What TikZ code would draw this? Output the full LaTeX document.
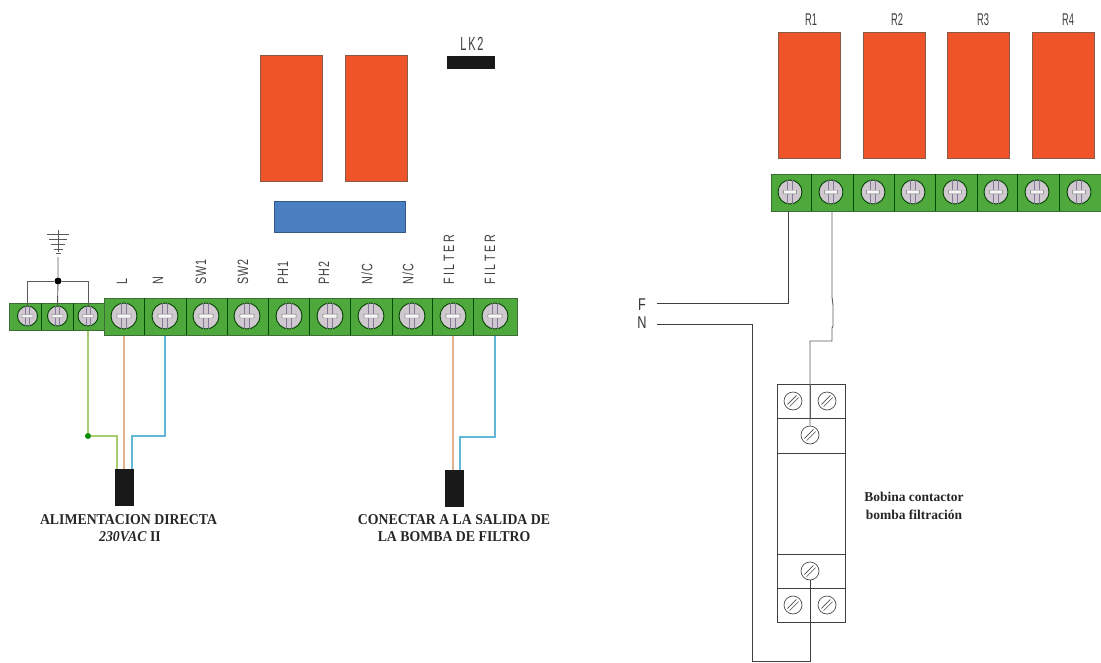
\documentclass[tikz,border=0pt]{standalone}
\usepackage{fontspec}
\setmainfont{Liberation Serif}
\setsansfont{Liberation Sans}
\definecolor{termgreen}{HTML}{4FA83C}
\definecolor{termedge}{HTML}{3C6E35}
\definecolor{relayred}{HTML}{EE5427}
\definecolor{relayedge}{HTML}{8A5A48}
\definecolor{bluebox}{HTML}{4A80C2}
\definecolor{wireg}{HTML}{A9CE6F}
\definecolor{wireo}{HTML}{E3B28E}
\definecolor{wireb}{HTML}{62B6D8}
\definecolor{wiregray}{HTML}{5A5A5A}
\definecolor{screwgray}{HTML}{CFC9CF}
\definecolor{screwline}{HTML}{85789A}
\newcommand{\screwat}[3]{% name, position, radius
  \node[screw,minimum size=#3*2pt] (#1) at (#2) {};
  \draw[screwline,line width=.7pt] ([xshift=-#3*.2pt]#1.north) -- ([xshift=-#3*.2pt]#1.south)
    ([xshift=#3*.2pt]#1.north) -- ([xshift=#3*.2pt]#1.south);
  \node[slot,minimum width=#3*1.1pt,minimum height=#3*.3pt] at (#1) {};
}
\newcommand{\dryscrew}[3]{% name, position, radius
  \node[bscrew,minimum size=#3*2pt] (#1) at (#2) {};
  \draw[line width=.6pt,black!70] ([shift={(-#3*.62pt,-#3*.38pt)}]#1.center) -- ([shift={(#3*.38pt,#3*.62pt)}]#1.center)
    ([shift={(-#3*.38pt,-#3*.62pt)}]#1.center) -- ([shift={(#3*.62pt,#3*.38pt)}]#1.center);
}
\newcommand{\lsp}{\kern1.5pt}
\newcommand{\lwd}{\kern3.5pt}
\tikzset{
  x=1pt,y=-1pt,
  block/.style={draw=termedge,fill=termgreen,line width=.6pt,minimum height=#1,inner sep=0pt,anchor=north west},
  sep/.style={draw=black!70!green,line width=.6pt},
  screw/.style={circle,draw=black!75!green,fill=screwgray,line width=.9pt,inner sep=0pt},
  slot/.style={rectangle,rounded corners=.6pt,draw=black!55,fill=white!92!gray,line width=.4pt,inner sep=0pt},
  bscrew/.style={circle,draw=black!70,fill=white,line width=.7pt,inner sep=0pt},
  relay/.style={draw=relayedge,fill=relayred,line width=.7pt,inner sep=0pt,minimum width=62pt,minimum height=126pt,anchor=north west},
  gwire/.style={draw=wiregray,line width=.9pt},
  kwire/.style={draw=black!75,line width=.9pt},
  glabel/.style={font=\sffamily\fontsize{15}{15}\selectfont,rotate=90,xscale=.72,anchor=west,inner sep=0pt,text=black!75},
  plug/.style={fill=black!90,inner sep=0pt,minimum width=19pt,minimum height=37pt,anchor=north west},
  capt/.style={font=\fontsize{15}{15}\selectfont\bfseries,text=black!85,inner sep=0pt,xscale=.92},
  rlabel/.style={font=\sffamily\fontsize{17}{17}\selectfont,inner sep=0pt,text=black!75,xscale=.55},
  coil/.style={font=\fontsize{13.5}{13.5}\selectfont\bfseries,text=black!85,inner sep=0pt},
  fnlabel/.style={font=\sffamily\fontsize{17}{17}\selectfont,inner sep=0pt,xscale=.75,text=black!80},
  box/.style={draw=black!75,line width=.8pt},
}
\begin{document}
\begin{tikzpicture}
\useasboundingbox (0,0) rectangle (1101,662);
% relays left
\node[relay] (ra) at (260,55) {};
\node[relay] (rb) at (345,55) {};
\node[draw=bluebox!70!black,fill=bluebox,line width=.7pt,inner sep=0pt,minimum width=131pt,minimum height=31pt,anchor=north west] (bluebar) at (274,201) {};
\node[fill=black!90,inner sep=0pt,minimum width=48pt,minimum height=13pt,anchor=north west] (lk) at (447,56) {};
\node[font=\sffamily\fontsize{19}{19}\selectfont,inner sep=0pt,text=black!75,xscale=.58] (lkt) at (472,44) {L\kern3pt K\kern3pt 2};
% left terminal blocks
\node[block=27pt,minimum width=96pt] (tbs) at (9,303) {};
\node[block=37pt,minimum width=413pt] (tbb) at (104,298) {};
\foreach \x in {41.5,73} \draw[sep] (\x,303) -- (\x,330);
\foreach \x in {144,186,227,268,309,350,392,432,473} \draw[sep] (\x,298) -- (\x,335);
\screwat{e1}{27.5,316}{10}
\screwat{e2}{57.5,316}{10}
\screwat{e3}{88,316}{10}
\screwat{sL}{124,316}{13}
\screwat{sN}{165,316}{13}
\screwat{s3}{206,316}{13}
\screwat{s4}{247,316}{13}
\screwat{s5}{289,316}{13}
\screwat{s6}{330,316}{13}
\screwat{s7}{371,316}{13}
\screwat{s8}{412,316}{13}
\screwat{sF}{453,316}{13}
\screwat{sG}{495,316}{13}
% terminal labels
\node[glabel] (l1) at (122,285) {L};
\node[glabel] (l2) at (158,285) {N};
\node[glabel] (l3) at (201,285) {S\lsp W\lsp 1};
\node[glabel] (l4) at (243,285) {S\lsp W\lsp 2};
\node[glabel] (l5) at (283,285) {P\lsp H\lsp 1};
\node[glabel] (l6) at (324,285) {P\lsp H\lsp 2};
\node[glabel] (l7) at (367,285) {N\lsp /\lsp C};
\node[glabel] (l8) at (408,285) {N\lsp /\lsp C};
\node[glabel] (l9) at (449,285) {F\lwd I\lwd L\lwd T\lwd E\lwd R};
\node[glabel] (l10) at (490,285) {F\lwd I\lwd L\lwd T\lwd E\lwd R};
% earth
\node[circle,fill=black,inner sep=0pt,minimum size=7pt] (jn) at (58,281) {};
\coordinate (earth) at (58,257);
\draw[gwire] (e1.north) |- (jn) -| (e3.north);
\draw[gwire] (e2.north) -- (jn) -- (earth);
\draw[gwire,line width=.7pt] (58,230) -- (58,252);
\foreach \y/\w in {234/11,239/9,244/7,249/4.5,253/2.5} \draw[gwire,line width=.7pt] (58-\w,\y) -- (58+\w,\y);
% left wiring
\node[plug] (p1) at (115,469) {};
\node[plug] (p2) at (445,470) {};
\node[circle,fill=green!55!black,inner sep=0pt,minimum size=6pt] (gd) at (88,436) {};
\draw[wireg,line width=1.2pt] (e3 |- tbs.south) -- (gd) -- (117,436) -- (117,469);
\draw[wireo,line width=1.3pt] (sL |- tbb.south) -- (sL |- p1.north);
\draw[wireb,line width=1.2pt] (sN |- tbb.south) -- (165,436) -- (132,436) -- (132,469);
\draw[wireo,line width=1.3pt] (sF |- tbb.south) -- (sF |- p2.north);
\draw[wireb,line width=1.2pt] (sG |- tbb.south) -- (495,437) -- (460,437) -- (460,470);
\node[capt] (c1) at (128.5,519.5) {ALIMENTACION DIRECTA};
\node[capt] (c2) at (130,537) {\textit{230VAC} II};
\node[capt] (c3) at (454,520) {CONECTAR A LA SALIDA DE};
\node[capt] (c4) at (454,537) {LA BOMBA DE FILTRO};
% right relays
\node[relay] (r1) at (778,32) {};
\node[relay] (r2) at (863,32) {};
\node[relay] (r3) at (947,32) {};
\node[relay] (r4) at (1032,32) {};
\node[rlabel] (t1) at (811,20) {R1};
\node[rlabel] (t2) at (897,20) {R2};
\node[rlabel] (t3) at (983,20) {R3};
\node[rlabel] (t4) at (1068,20) {R4};
\node[block=37pt,minimum width=330pt] (tbr) at (771,174) {};
\foreach \x in {811,853,894,935,977,1017,1059} \draw[sep] (\x,174) -- (\x,211);
\screwat{q1}{790,192}{12}
\screwat{q2}{831,192}{12}
\screwat{q3}{873,192}{12}
\screwat{q4}{913,192}{12}
\screwat{q5}{955,192}{12}
\screwat{q6}{996,192}{12}
\screwat{q7}{1037,192}{12}
\screwat{q8}{1079,192}{12}
% contactor
\draw[box] (777,384) rectangle (845,622);
\foreach \y in {418,453,554,588} \draw[box] (777,\y) -- (845,\y);
\draw[gwire,line width=.7pt] (810,384) -- (810,418) (810,588) -- (810,622);
\dryscrew{c11}{793,401}{9}
\dryscrew{c12}{827,401}{9}
\dryscrew{c13}{810,435}{9}
\dryscrew{c14}{810,571}{9}
\dryscrew{c15}{793,605}{9}
\dryscrew{c16}{827,605}{9}
% right wiring
\node[fnlabel] (F) at (642,305) {F};
\node[fnlabel] (N) at (642,323) {N};
\coordinate (fs) at (657,303);
\coordinate (ns) at (657,324);
\coordinate (q1w) at (788,211);
\coordinate (q2w) at (832,211);
\draw[kwire] (fs) -| (q1w);
\draw[gwire] (q2w) -- (832,297) -- (833,305) -- (833,326) -- (832,328) -- (832,341) -- (810,341) -- (c13.north);
\draw[kwire] (ns) -- (752,324) -- (752,661) -- (810,661) -- (c14.south);
\node[coil] (k1) at (914,497) {Bobina contactor};
\node[coil] (k2) at (914,515) {bomba filtración};
\end{tikzpicture}
\end{document}
